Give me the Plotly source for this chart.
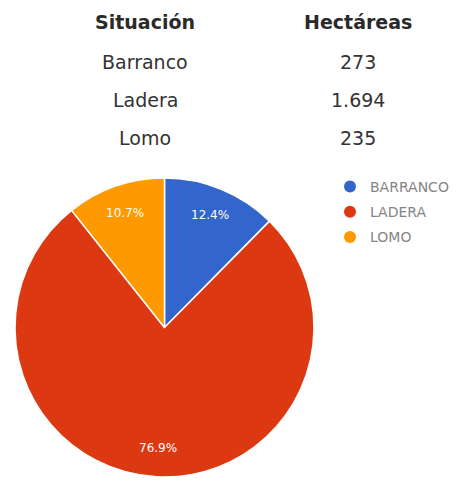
import math
import plotly.graph_objects as go

# Superficie por situación
situaciones = ["Barranco", "Ladera", "Lomo"]
hectareas = [273, 1694, 235]
hectareas_txt = ["273", "1.694", "235"]
leyenda = ["BARRANCO", "LADERA", "LOMO"]
colores = ["#3366cc", "#dc3912", "#ff9900"]
cabeceras = ["Situación", "Hectáreas"]

W, H = 458, 484
FONT = "DejaVu Sans"

# Zona del gráfico circular (píxeles)
PIE_X = (15, 314)
PIE_Y = (178, 477)

fig = go.Figure()

fig.add_trace(go.Pie(
    labels=leyenda,
    values=hectareas,
    sort=False,
    direction="clockwise",
    rotation=0,
    marker=dict(colors=colores, line=dict(color="white", width=1.5)),
    textinfo="none",
    domain=dict(x=[PIE_X[0] / W, PIE_X[1] / W],
                y=[1 - PIE_Y[1] / H, 1 - PIE_Y[0] / H]),
    showlegend=False,
    hoverinfo="label+value+percent",
))

# Porcentajes dentro de cada sector, sobre el ángulo medio
total = sum(hectareas)
cx = (PIE_X[0] + PIE_X[1]) / 2
cy = (PIE_Y[0] + PIE_Y[1]) / 2
radio = min(PIE_X[1] - PIE_X[0], PIE_Y[1] - PIE_Y[0]) / 2
acum = 0
for v in hectareas:
    medio = (acum + v / 2) / total * 2 * math.pi
    acum += v
    px = cx + 0.81 * radio * math.sin(medio)
    py = cy - 0.81 * radio * math.cos(medio)
    fig.add_annotation(
        x=px / W, y=1 - py / H, xref="paper", yref="paper",
        text=f"{v / total * 100:.1f}%", showarrow=False,
        font=dict(family=FONT, size=12, color="white"),
        xanchor="center", yanchor="middle",
    )

# Leyenda con marcadores circulares
for nombre, color in zip(leyenda, colores):
    fig.add_trace(go.Scatter(
        x=[None], y=[None], mode="markers", name=nombre,
        legendgroup=nombre,
        marker=dict(symbol="circle", size=13, color=color),
        showlegend=True,
    ))

# Tabla de datos en la cabecera
col_x = [145, 358]
fila_y = [62, 100, 138]
for x0, texto in zip(col_x, cabeceras):
    fig.add_annotation(
        x=x0 / W, y=1 - 22 / H, xref="paper", yref="paper",
        text=f"<b>{texto}</b>", showarrow=False,
        font=dict(family=FONT, size=19, color="#2a2a2a"),
        xanchor="center", yanchor="middle",
    )
for fy, nombre, valor in zip(fila_y, situaciones, hectareas_txt):
    fig.add_annotation(
        x=col_x[0] / W, y=1 - fy / H, xref="paper", yref="paper",
        text=nombre, showarrow=False,
        font=dict(family=FONT, size=19, color="#333333"),
        xanchor="center", yanchor="middle",
    )
    fig.add_annotation(
        x=col_x[1] / W, y=1 - fy / H, xref="paper", yref="paper",
        text=valor, showarrow=False,
        font=dict(family=FONT, size=19, color="#333333"),
        xanchor="center", yanchor="middle",
    )

fig.update_layout(
    width=W, height=H,
    margin=dict(l=0, r=0, t=0, b=0),
    paper_bgcolor="white", plot_bgcolor="white",
    xaxis=dict(visible=False, domain=[0.98, 1]),
    yaxis=dict(visible=False, domain=[0.98, 1]),
    legend=dict(
        x=330 / W, y=1 - 171 / H, xanchor="left", yanchor="top",
        font=dict(family=FONT, size=14, color="#858585"),
        itemsizing="constant", tracegroupgap=4,
        bgcolor="rgba(0,0,0,0)",
    ),
)

fig.write_html("out.html")
